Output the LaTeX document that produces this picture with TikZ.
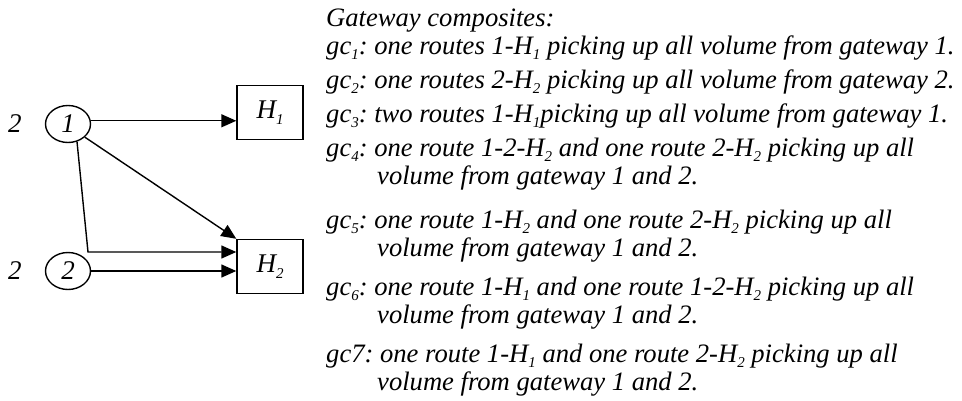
\documentclass[tikz,border=0pt]{standalone}
\usepackage{fontspec}
\setmainfont{Liberation Serif}
\usetikzlibrary{arrows.meta, shapes.geometric, positioning}
\frenchspacing

\newcommand{\gsub}[1]{\raisebox{-0.45ex}{\fontsize{15}{15}\selectfont #1}}

\tikzset{
  gate/.style={draw, line width=1.4pt, ellipse, minimum width=45pt, minimum height=37pt, inner sep=0pt},
  hub/.style={draw, line width=1.4pt, minimum width=66pt, minimum height=54pt, inner sep=0pt},
  route/.style={line width=1.4pt, -{Triangle[length=15pt, width=13pt]}},
  txt/.style={anchor=base west, inner sep=0pt, text height=16pt, text depth=4pt,
    font=\itshape\fontsize{26.6}{28}\selectfont}
}

\begin{document}
\begin{tikzpicture}[x=1pt, y=-1pt, font=\itshape\fontsize{27}{30}\selectfont]
      \useasboundingbox (0,0) rectangle (962,400);

      % gateways and hubs
      \node[gate] (n1) at (68,124) {1};
      \node[gate] (n2) at (68,271) {2};
      \node (w1) at (15,124) {2};
      \node (w2) at (15,271) {2};
      \node[hub] (h1) at (270,112.5) {H\gsub{1}};
      \node[hub] (h2) at (270,266.5) {H\gsub{2}};

      % routes
      \coordinate (bend) at (88,252);
      \draw[route] (n1.8) -- (n1.8 -| h1.west);
      \draw[route] (n1.-38) -- (h2.north west);
      \draw[route] (n1.-63) -- (bend) -- (bend -| h2.west);
      \draw[route] (n2.east) -- (n2.east -| h2.west);

      % gateway composites
      \foreach \x/\y/\t [count=\i] in {
        326/26/{Gateway composites:},
        326/54/{gc\gsub{1}: one routes 1-H\gsub{1} picking up all volume from gateway 1.},
        326/88/{gc\gsub{2}: one routes 2-H\gsub{2} picking up all volume from gateway 2.},
        326/122/{gc\gsub{3}: two routes 1-H\gsub{1}picking up all volume from gateway 1.},
        326/156/{gc\gsub{4}: one route 1-2-H\gsub{2} and one route 2-H\gsub{2} picking up all},
        377/184/{volume from gateway 1 and 2.},
        326/228/{gc\gsub{5}: one route 1-H\gsub{2} and one route 2-H\gsub{2} picking up all},
        377/256/{volume from gateway 1 and 2.},
        326/295/{gc\gsub{6}: one route 1-H\gsub{1} and one route 1-2-H\gsub{2} picking up all},
        377/323/{volume from gateway 1 and 2.},
        326/362/{gc7: one route 1-H\gsub{1} and one route 2-H\gsub{2} picking up all},
        377/390/{volume from gateway 1 and 2.}}
        \node[txt] (l\i) at (\x,\y) {\t};
  \end{tikzpicture}
\end{document}
